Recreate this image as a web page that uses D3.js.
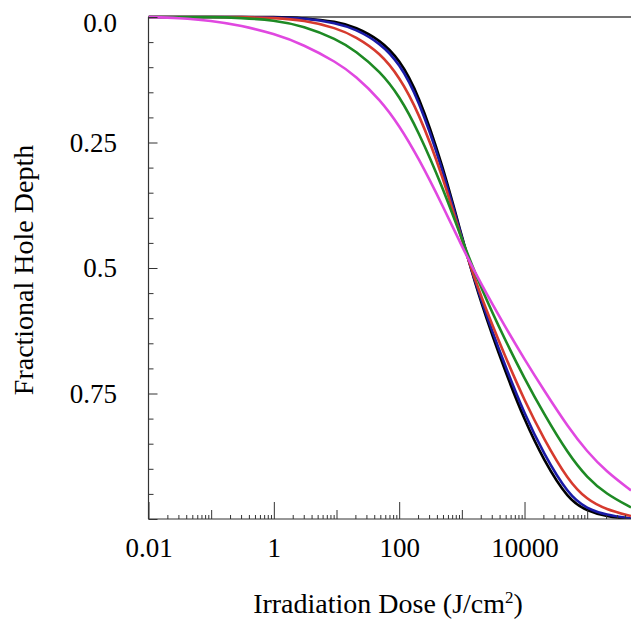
<!DOCTYPE html>
<html>
<head>
<meta charset="utf-8">
<script src="https://cdn.jsdelivr.net/npm/d3@7"></script>
<style>
  body { margin: 0; background: #fff; }
  svg text { font-family: "Liberation Serif", "Times New Roman", serif; fill: #000; }
</style>
</head>
<body>
<div id="chart"></div>
<script>
// Set size constants
var totWidth = 631,
    totHeight = 620;
var plot = {left: 148.5, right: 631, top: 17, bottom: 519};

// Data
var doses = [0.01, 0.03, 0.1, 0.3, 1, 3, 10, 20, 50, 100, 200, 500, 1000, 2000, 5000, 1e4, 2e4, 5e4, 1e5, 2e5, 5e5];
var depthBlack   = [0, 0, 0, 0, 0, 0.002, 0.009, 0.020, 0.046, 0.084, 0.151, 0.297, 0.438, 0.570, 0.709, 0.803, 0.882, 0.962, 0.984, 0.995, 1.000];
var depthBlue    = [0, 0, 0, 0, 0.001, 0.002, 0.012, 0.024, 0.052, 0.092, 0.161, 0.305, 0.441, 0.564, 0.698, 0.791, 0.869, 0.952, 0.980, 0.992, 0.999];
var depthRed     = [0, 0, 0, 0, 0.002, 0.006, 0.022, 0.039, 0.072, 0.119, 0.187, 0.318, 0.446, 0.557, 0.679, 0.764, 0.839, 0.924, 0.962, 0.981, 0.994];
var depthGreen   = [0, 0, 0, 0.002, 0.006, 0.018, 0.044, 0.067, 0.109, 0.157, 0.226, 0.341, 0.443, 0.539, 0.646, 0.720, 0.789, 0.871, 0.918, 0.950, 0.977];
var depthMagenta = [0, 0.002, 0.007, 0.017, 0.033, 0.055, 0.090, 0.117, 0.165, 0.216, 0.279, 0.377, 0.457, 0.531, 0.619, 0.682, 0.742, 0.818, 0.866, 0.905, 0.943];

var seriesColors = ["#000000", "#1a1aa6", "#d63a2e", "#1e8a24", "#e048e0"];
var seriesDepths = [depthBlack, depthBlue, depthRed, depthGreen, depthMagenta];

var xLabelTicks = [0.01, 1, 100, 10000];
var yLabelTicks = [0, 0.25, 0.5, 0.75];
var yLabelText  = ["0.0", "0.25", "0.5", "0.75"];

// Scales
var x = d3.scaleLog()
  .domain([0.01, 5e5])
  .range([plot.left, plot.right]);
var y = d3.scaleLinear()
  .domain([0, 1])
  .range([plot.top, plot.bottom]);

var svg = d3.select("#chart")
  .append("svg")
    .attr("width", totWidth)
    .attr("height", totHeight);

// tick values for the log axis
var decades = d3.range(-2, 6).map(function(e) { return Math.pow(10, e); });
var evenDecades = decades.filter(function(d, i) { return i % 2 === 0; });
var oddDecades = decades.filter(function(d, i) { return i % 2 === 1; });
var minorX = [];
decades.forEach(function(d) {
  for (var k = 2; k <= 9; k++) { if (d * k <= 5e5) minorX.push(d * k); }
});

var yMinor = d3.range(0, 1.0001, 0.05).filter(function(v) { return Math.abs(v * 4 - Math.round(v * 4)) > 1e-6; });
var yMajor = [0, 0.25, 0.5, 0.75, 1];

// curves, clipped to plot area
svg.append("clipPath").attr("id", "clip")
  .append("rect")
    .attr("x", plot.left).attr("y", plot.top - 3)
    .attr("width", plot.right - plot.left).attr("height", plot.bottom - plot.top + 3);

var line = d3.line()
  .curve(d3.curveBasis)
  .x(function(d) { return x(d[0]); })
  .y(function(d) { return y(d[1]); });

// top border line
svg.append("line")
  .attr("x1", plot.left).attr("x2", plot.right)
  .attr("y1", plot.top).attr("y2", plot.top)
  .attr("stroke", "#444").attr("stroke-width", 1.3);

svg.append("g")
  .attr("clip-path", "url(#clip)")
  .selectAll("path")
  .data(seriesDepths)
  .enter()
  .append("path")
    .attr("fill", "none")
    .attr("stroke", function(d, i) { return seriesColors[i]; })
    .attr("stroke-width", 2.6)
    .attr("stroke-linejoin", "round")
    .attr("d", function(d) { return line(doses.map(function(v, i) { return [v, d[i]]; })); });

// X axis ticks (pointing up, into the plot)
function xTicks(values, size) {
  var g = svg.append("g")
    .attr("transform", "translate(0," + plot.bottom + ")")
    .call(d3.axisTop(x).tickValues(values).tickSize(size).tickFormat(""));
  g.select(".domain").remove();
  g.selectAll(".tick line").attr("stroke", "#333").attr("stroke-width", 1);
}
xTicks(minorX, 4);
xTicks(oddDecades, 9);
xTicks(evenDecades, 17);

svg.append("line")
  .attr("x1", plot.left).attr("x2", plot.right)
  .attr("y1", plot.bottom).attr("y2", plot.bottom)
  .attr("stroke", "#333").attr("stroke-width", 1.2);

// X tick labels
var xLab = svg.append("g")
  .attr("transform", "translate(0," + plot.bottom + ")")
  .call(d3.axisBottom(x).tickValues(xLabelTicks).tickSize(0).tickPadding(19)
    .tickFormat(function(d) { return String(d); }));
xLab.select(".domain").remove();
xLab.selectAll("text").attr("font-size", "27px").style("font-family", "'Liberation Serif', serif");

// Y axis ticks (pointing right, into the plot)
function yTicks(values, size) {
  var g = svg.append("g")
    .attr("transform", "translate(" + plot.left + ",0)")
    .call(d3.axisRight(y).tickValues(values).tickSize(size).tickFormat(""));
  g.select(".domain").remove();
  g.selectAll(".tick line").attr("stroke", "#333").attr("stroke-width", 1);
}
yTicks(yMinor, 5);
yTicks(yMajor, 9);

svg.append("line")
  .attr("x1", plot.left).attr("x2", plot.left)
  .attr("y1", plot.top).attr("y2", plot.bottom)
  .attr("stroke", "#333").attr("stroke-width", 1.2);

// Y tick labels
svg.selectAll(".ylab")
  .data(yLabelTicks)
  .enter()
  .append("text")
    .attr("class", "ylab")
    .attr("x", 117)
    .attr("y", function(d) { return d === 0 ? y(d) + 15 : y(d) + 9; })
    .attr("text-anchor", "end")
    .attr("font-size", "27px")
    .text(function(d, i) { return yLabelText[i]; });

// Axis titles
var xTitle = svg.append("text")
  .attr("x", 388)
  .attr("y", 613)
  .attr("text-anchor", "middle")
  .attr("font-size", "28px");
xTitle.append("tspan").text("Irradiation Dose (J/cm");
xTitle.append("tspan").attr("font-size", "17px").attr("dy", -10).text("2");
xTitle.append("tspan").attr("dy", 10).text(")");

svg.append("text")
  .attr("transform", "translate(33,270) rotate(-90)")
  .attr("text-anchor", "middle")
  .attr("font-size", "28px")
  .text("Fractional Hole Depth");
</script>
</body>
</html>
